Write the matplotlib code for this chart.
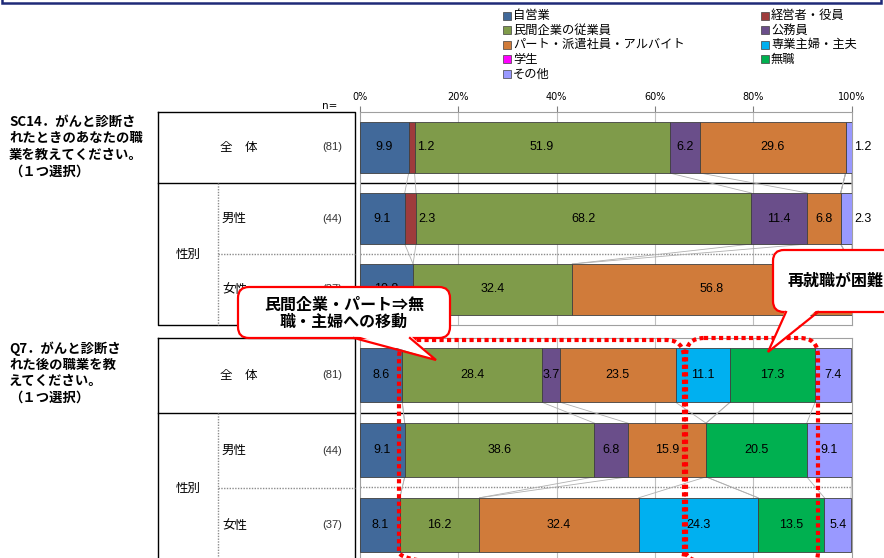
import numpy as np
import matplotlib.pyplot as plt
from matplotlib.patches import Rectangle, FancyBboxPatch, Polygon

plt.rcParams['font.family'] = ['Noto Sans CJK JP', 'DejaVu Sans']

categories = ['自営業', '経営者・役員', '民間企業の従業員', '公務員',
              'パート・派遣社員・アルバイト', '専業主婦・主夫', '学生', '無職', 'その他']
colors = ['#41699a', '#9e3c3c', '#7f9b4a', '#6a4e8a', '#d07b3a',
          '#00b0f0', '#ff00ff', '#00b050', '#9999ff']

row_names = ['全\u3000体', '男性', '女性']
n_sc14 = [81, 44, 37]
n_q7 = [81, 44, 37]

# SC14: job when diagnosed
sc14 = np.array([
    [9.9, 1.2, 51.9, 6.2, 29.6, 0, 0, 0, 1.2],
    [9.1, 2.3, 68.2, 11.4, 6.8, 0, 0, 0, 2.3],
    [10.8, 0, 32.4, 0, 56.8, 0, 0, 0, 0],
])
# Q7: job after diagnosis
q7 = np.array([
    [8.6, 0, 28.4, 3.7, 23.5, 11.1, 0, 17.3, 7.4],
    [9.1, 0, 38.6, 6.8, 15.9, 0, 0, 20.5, 9.1],
    [8.1, 0, 16.2, 0, 32.4, 24.3, 0, 13.5, 5.4],
])

q_sc14 = 'SC14．がんと診断さ\nれたときのあなたの職\n業を教えてください。\n（１つ選択）'
q_q7 = 'Q7．がんと診断さ\nれた後の職業を教\nえてください。\n（１つ選択）'

W, H = 884, 558
fig = plt.figure(figsize=(W / 100, H / 100), dpi=100)


def px_axes(x0, x1, y0, y1):
    return fig.add_axes([x0 / W, 1 - y1 / H, (x1 - x0) / W, (y1 - y0) / H])


def draw_panel(ax, data, show_ticks):
    h = 0.72
    ax.set_xlim(0, 100)
    ax.set_ylim(2.5, -0.5)
    for v in range(20, 100, 20):
        ax.axvline(v, color='#c0c0c0', lw=0.8, zorder=0)
    ax.axhline(0.5, color='black', lw=1.0, zorder=0)
    ax.axhline(1.5, color='#8c8c8c', lw=1.0, ls=(0, (1, 1)), zorder=0)
    ypos = np.arange(len(data))
    left = np.zeros(len(data))
    for j, col in enumerate(colors):
        vals = data[:, j]
        nz = vals > 0
        ax.barh(ypos[nz], vals[nz], left=left[nz], height=h, color=col,
                edgecolor='#404040', lw=0.6, zorder=3)
        ends = left + vals
        # series lines between stacked bars
        for i in range(len(data) - 1):
            ax.plot([ends[i], ends[i + 1]], [i + h / 2, i + 1 - h / 2],
                    color='#b0b0b0', lw=0.6, zorder=2)
        for i in ypos[nz]:
            v = vals[i]
            if v >= 3:
                ax.text(left[i] + v / 2, i, f'{v:.1f}', ha='center', va='center',
                        fontsize=9, family='Liberation Sans', zorder=4)
            else:
                ax.text(ends[i] + 0.5, i, f'{v:.1f}', ha='left', va='center',
                        fontsize=9, family='Liberation Sans', zorder=4)
        left = ends
    for s in ax.spines.values():
        s.set_color('#a0a0a0')
        s.set_linewidth(0.8)
    ax.set_yticks([])
    if show_ticks:
        ax.xaxis.tick_top()
        ax.set_xticks(range(0, 101, 20))
        ax.set_xticklabels([f'{v}%' for v in range(0, 101, 20)],
                           fontsize=7, family='DejaVu Sans')
        ax.tick_params(axis='x', length=4, color='#808080', pad=3)
    else:
        ax.set_xticks([])


ax1 = px_axes(360, 851.5, 112, 325)
draw_panel(ax1, sc14, True)
ax2 = px_axes(360, 851.5, 338, 562)
draw_panel(ax2, q7, False)

# overlay in pixel units for the table, legend and callouts
ov = fig.add_axes([0, 0, 1, 1])
ov.set_xlim(0, W)
ov.set_ylim(H, 0)
ov.axis('off')
ov.patch.set_alpha(0)

ov.add_patch(Rectangle((2, -10), 879, 13, fill=False, ec='#1f2a78', lw=1.8))

# legend
for k, j in enumerate(range(0, len(categories), 2)):
    y = 15.5 + k * 14.6
    ov.add_patch(Rectangle((502.5, y - 4), 8, 8, fc=colors[j], ec='#404040', lw=0.5))
    ov.text(513, y, categories[j], fontsize=8.8, va='center', ha='left')
for k, j in enumerate(range(1, len(categories), 2)):
    y = 15.5 + k * 14.6
    ov.add_patch(Rectangle((760.5, y - 4), 8, 8, fc=colors[j], ec='#404040', lw=0.5))
    ov.text(771, y, categories[j], fontsize=8.8, va='center', ha='left')

ov.text(330, 106, 'n=', fontsize=7.5, ha='center', va='center', family='DejaVu Sans')


def draw_table(top, row_h, question, n_vals):
    ys = [top + k * row_h for k in range(4)]
    ov.plot([158, 355, 355, 158, 158], [ys[0], ys[0], ys[3], ys[3], ys[0]],
            color='black', lw=1.0)
    ov.plot([158, 355], [ys[1], ys[1]], color='black', lw=1.0)
    ov.plot([218, 218], [ys[1], ys[3]], color='#8c8c8c', lw=1.0, ls=(0, (1, 1)))
    ov.plot([218, 355], [ys[2], ys[2]], color='#8c8c8c', lw=1.0, ls=(0, (1, 1)))
    for i, name in enumerate(row_names):
        yc = (ys[i] + ys[i + 1]) / 2
        ov.text(220 if i == 0 else 222, yc, name, fontsize=9, va='center', ha='left')
        ov.text(332, yc, f'({n_vals[i]})', fontsize=8, va='center', ha='center',
                family='Liberation Sans', color='#333333')
    ov.text(188, (ys[1] + ys[3]) / 2, '性別', fontsize=9, va='center', ha='center')
    ov.text(9, top + 3, question, fontsize=9.6, fontweight='bold', va='top',
            ha='left', linespacing=1.22)


draw_table(112, 71, q_sc14, n_sc14)
draw_table(338, 75, q_q7, n_q7)

# red dotted groupings
for x0, x1, y0 in [(399, 684, 340), (686, 818, 338)]:
    p = FancyBboxPatch((x0, y0), x1 - x0, 570 - y0,
                       boxstyle='round,pad=0,rounding_size=18',
                       fill=False, ec='#ff0000', lw=3)
    p.set_linestyle((0, (1, 0.8)))
    ov.add_patch(p)


def callout(x0, x1, y0, y1, base, tip, text, tx, ty):
    ov.add_patch(FancyBboxPatch((x0, y0), x1 - x0, y1 - y0,
                                boxstyle='round,pad=0,rounding_size=11',
                                fc='white', ec='#ff0000', lw=1.6, zorder=5))
    ov.add_patch(Polygon([(base[0], y1 - 3), (base[1], y1 - 3), tip],
                         closed=True, fc='white', ec='none', zorder=6))
    ov.plot([base[0], tip[0], base[1]], [y1, tip[1], y1], color='#ff0000',
            lw=1.6, zorder=7, solid_joinstyle='miter')
    ov.text(tx, ty, text, fontsize=11.5, fontweight='bold', ha='center',
            va='center', linespacing=1.1, zorder=8)


callout(238, 450, 287, 338, (354, 410), (436, 360),
        '民間企業・パート⇒無\n職・主婦への移動', 344, 313)
callout(773, 905, 250, 312, (786, 818), (768, 352),
        '再就職が困難', 836, 281)

fig.savefig('out.png', dpi=100)
